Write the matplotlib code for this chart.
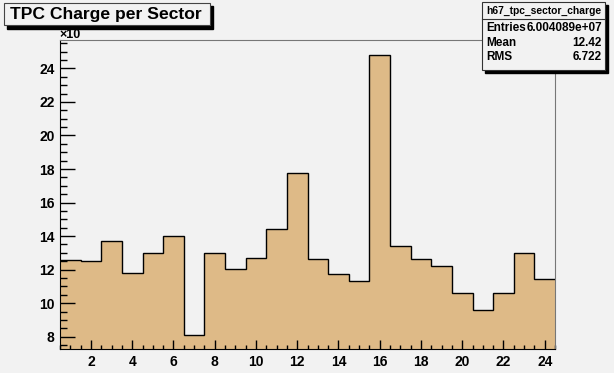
import numpy as np
import matplotlib.pyplot as plt
from matplotlib.patches import Rectangle
from matplotlib.ticker import MultipleLocator

plt.rcParams['font.family'] = ['Liberation Sans', 'DejaVu Sans']

# TPC charge per sector (in units of 10^n)
sectors = np.arange(1, 25)
charge = [12.56, 12.50, 13.72, 11.82, 13.01, 13.99, 8.12, 13.01, 12.06, 12.69,
          14.42, 17.76, 12.63, 11.72, 11.34, 24.82, 13.41, 12.62, 12.20, 10.62,
          9.59, 10.61, 12.99, 11.44]
hist_name = "h67_tpc_sector_charge"
stats_labels = ["Entries", "Mean", "RMS"]
stats_values = ["6.004089e+07", "12.42", "6.722"]

bg = '#f2f2f2'
fill = '#deba87'

fig = plt.figure(figsize=(6.14, 3.73), dpi=100, facecolor=bg)
ax = fig.add_axes([60/614, 1 - 349/373, 495/614, 309/373], facecolor=bg)

edges = np.append(sectors - 0.5, sectors[-1] + 0.5)
ax.stairs(charge, edges, fill=True, color=fill, baseline=0)
ax.stairs(charge, edges, color='black', lw=1.0, baseline=None)

ax.set_xlim(0.5, 24.5)
ax.set_ylim(7.27, 25.69)
ax.xaxis.set_major_locator(MultipleLocator(2))
ax.xaxis.set_minor_locator(MultipleLocator(0.5))
ax.yaxis.set_major_locator(MultipleLocator(2))
ax.yaxis.set_minor_locator(MultipleLocator(0.5))
ax.tick_params(axis='both', which='both', direction='in', color='black', width=1)
ax.tick_params(axis='y', which='major', length=11, pad=4)
ax.tick_params(axis='y', which='minor', length=5)
ax.tick_params(axis='x', which='major', length=6.5, pad=4)
ax.tick_params(axis='x', which='minor', length=3)
for lab in ax.get_xticklabels() + ax.get_yticklabels():
    lab.set_fontweight('bold')
    lab.set_fontsize(10)
for side in ['top', 'right']:
    ax.spines[side].set_color('#777777')
for side in ['left', 'bottom']:
    ax.spines[side].set_color('black')

# overlay in pixel coordinates for the boxes
ov = fig.add_axes([0, 0, 1, 1], facecolor='none')
ov.set_xlim(0, 614)
ov.set_ylim(373, 0)
ov.axis('off')

ov.text(59, 38, "×10", fontsize=9, fontweight='bold', va='baseline', ha='left', zorder=5)

# title box with shadow
ov.add_patch(Rectangle((7, 6), 206, 23, color='black', zorder=2))
ov.add_patch(Rectangle((4, 3), 206, 22, facecolor=bg, edgecolor='#444444', lw=0.8, zorder=3))
ov.text(10, 14.5, "TPC Charge per Sector", fontsize=12.6, fontweight='bold',
        va='center', ha='left', zorder=4)

# stats box with shadow
ov.add_patch(Rectangle((485, 5), 123, 68, color='black', zorder=2))
ov.add_patch(Rectangle((482, 2), 123, 68, facecolor=bg, edgecolor='#333333', lw=0.8, zorder=3))
ov.plot([482, 605], [19, 19], color='#333333', lw=0.8, zorder=4)
ov.text(543.5, 11, hist_name, fontsize=7.4, fontweight='bold', ha='center', va='center', zorder=4)
rows_y = [28, 43, 57]
for lab, val, y in zip(stats_labels, stats_values, rows_y):
    ov.text(486, y, lab, fontsize=8.5, fontweight='bold', ha='left', va='center', zorder=4)
    ov.text(602, y, val, fontsize=8.5, fontweight='bold', ha='right', va='center', zorder=4)

fig.savefig('out.png', dpi=100, facecolor=bg)
